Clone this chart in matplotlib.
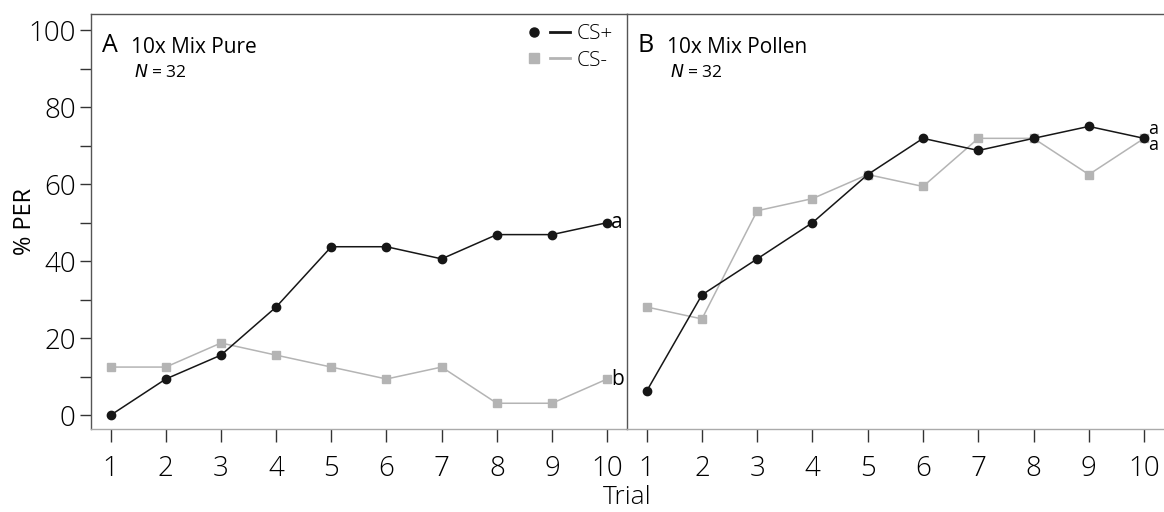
import matplotlib
matplotlib.use("Agg")
import matplotlib.pyplot as plt
from matplotlib.lines import Line2D
from matplotlib.legend_handler import HandlerTuple

plt.rcParams['font.family'] = ['Open Sans', 'DejaVu Sans']
plt.rcParams['font.weight'] = 'light'

trials = [1, 2, 3, 4, 5, 6, 7, 8, 9, 10]
# % PER per trial, panel A (10x Mix Pure)
pure_csplus = [0, 9.4, 15.6, 28.1, 43.75, 43.75, 40.6, 46.9, 46.9, 50.0]
pure_csminus = [12.5, 12.5, 18.75, 15.6, 12.5, 9.4, 12.5, 3.1, 3.1, 9.4]
# panel B (10x Mix Pollen)
pollen_csplus = [6.25, 31.25, 40.6, 50.0, 62.5, 71.9, 68.75, 71.9, 75.0, 71.9]
pollen_csminus = [28.1, 25.0, 53.1, 56.25, 62.5, 59.4, 71.9, 71.9, 62.5, 71.9]

black = '#161616'
grey = '#b4b4b4'
spine_col = '#555555'

fig = plt.figure(figsize=(11.64, 5.12), dpi=100)
axA = fig.add_axes([0.0782, 0.162, 0.4605, 0.8107])
axB = fig.add_axes([0.5387, 0.162, 0.4613, 0.8107])


def draw(ax, plus, minus):
    ax.plot(trials, minus, color=grey, lw=1.1, marker='s', ms=6,
            mec=grey, mfc=grey, zorder=2)
    ax.plot(trials, plus, color=black, lw=1.1, marker='o', ms=6,
            mec=black, mfc=black, zorder=3)
    ax.set_xlim(0.645, 10.36)
    ax.set_ylim(-3.6, 104.2)
    ax.set_xticks(trials)
    ax.tick_params(axis='x', direction='out', length=9, width=1,
                   color='#333333', labelsize=20, pad=10)
    for s in ax.spines.values():
        s.set_color(spine_col)
        s.set_linewidth(1)
    ax.spines['bottom'].set_color('#aaaaaa')


draw(axA, pure_csplus, pure_csminus)
draw(axB, pollen_csplus, pollen_csminus)

axA.set_yticks([0, 20, 40, 60, 80, 100])
axA.set_yticks([10, 30, 50, 70, 90], minor=True)
axA.tick_params(axis='y', which='both', direction='out', length=8, width=1,
                color='#333333', labelsize=20, pad=3)
axA.set_ylabel('% PER', fontsize=17)
axA.yaxis.set_label_coords(-0.1, 0.5)
axA.spines['right'].set_visible(False)

axB.set_yticks([])
axB.spines['right'].set_visible(False)

fig.text(0.539, 0.004, 'Trial', fontsize=19, ha='center', va='bottom')

# panel titles
for ax, letter, title in [(axA, 'A', '10x Mix Pure'), (axB, 'B', '10x Mix Pollen')]:
    ax.text(0.02, 0.925, letter, transform=ax.transAxes, fontsize=18, va='center',
            fontweight='normal')
    ax.text(0.075, 0.92, title, transform=ax.transAxes, fontsize=15, va='center',
            fontweight='normal')
    ax.text(0.08, 0.858, r'$\it{N}$ = 32', transform=ax.transAxes, fontsize=12.5,
            va='center', fontweight='normal')

# significance letters
axA.annotate('a', (trials[-1], pure_csplus[-1]), xytext=(3, 0), textcoords='offset points',
             fontsize=15, va='center', fontweight='normal')
axA.annotate('b', (trials[-1], pure_csminus[-1]), xytext=(3, 0), textcoords='offset points',
             fontsize=15, va='center', fontweight='normal')
axB.annotate('a', (trials[-1], pollen_csplus[-1]), xytext=(3, 6.5), textcoords='offset points',
             fontsize=13, va='center', fontweight='normal')
axB.annotate('a', (trials[-1], pollen_csminus[-1]), xytext=(3, -5), textcoords='offset points',
             fontsize=13, va='center', fontweight='normal')

# legend
h_plus = (Line2D([], [], marker='o', color=black, ls='none', ms=6.5),
          Line2D([], [], color=black, lw=2))
h_minus = (Line2D([], [], marker='s', color=grey, ls='none', ms=6.5),
           Line2D([], [], color=grey, lw=2))
axA.legend([h_plus, h_minus], ['CS+', 'CS-'],
           handler_map={tuple: HandlerTuple(ndivide=None, pad=0.3)},
           loc='upper right', bbox_to_anchor=(1.0, 1.01), frameon=False,
           fontsize=15, handlelength=2.2, handletextpad=0.3, labelspacing=0.3,
           borderaxespad=0.3)

plt.savefig('out.png', dpi=100)
